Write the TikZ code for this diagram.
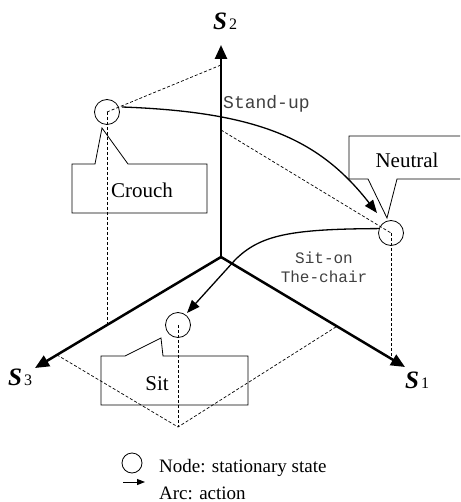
\documentclass[tikz,border=0pt]{standalone}
\usepackage{fontspec}
\setmainfont{Liberation Serif}
\setmonofont{Liberation Mono}
\usetikzlibrary{arrows.meta,calc}
\begin{document}
\begin{tikzpicture}[x=1pt,y=-1pt,
  axisline/.style={line width=2.5pt,-{Triangle[length=14pt,width=12pt]}},
  stnode/.style={circle,draw,line width=0.8pt,minimum size=25pt,inner sep=0pt},
  proj/.style={line width=0.7pt,dash pattern=on 3pt off 2pt},
  actarc/.style={line width=1.3pt,-{Triangle[length=13pt,width=10pt]}},
  callout/.style={line width=0.8pt},
  lbl/.style={font=\fontsize{21}{25}\selectfont,inner sep=0pt,anchor=base},
  act/.style={font=\ttfamily\fontsize{16}{20}\selectfont,text=black!75,inner sep=0pt},
  axlbl/.style={inner sep=0pt,anchor=base west},
  legtext/.style={font=\fontsize{19}{22}\selectfont,inner sep=0pt,anchor=base west},
]
\useasboundingbox (0,0) rectangle (460,502);

% axes
\coordinate (o) at (221,257);
\coordinate (s2tip) at (221,45);
\coordinate (s3tip) at (35,368);
\coordinate (s1tip) at (405,367);
\draw[axisline] (o) -- (s2tip);
\draw[axisline] (o) -- (s3tip);
\draw[axisline] (o) -- (s1tip);

\node[axlbl] (s2lbl) at (213,30) {{\fontsize{25}{25}\selectfont\bfseries\itshape S}\hspace{2pt}{\fontsize{16}{16}\selectfont 2}};
\node[axlbl] (s3lbl) at (8,385) {{\fontsize{25}{25}\selectfont\bfseries\itshape S}\hspace{2pt}{\fontsize{16}{16}\selectfont 3}};
\node[axlbl] (s1lbl) at (405,388) {{\fontsize{25}{25}\selectfont\bfseries\itshape S}\hspace{2pt}{\fontsize{16}{16}\selectfont 1}};

% states
\node[stnode] (crouch) at (107,112) {};
\node[stnode] (neutral) at (391,233) {};
\node[stnode] (sit) at (178,325) {};

% projection lines
\coordinate (p2a) at (221,65);
\coordinate (p2b) at (221,130);
\coordinate (c3) at ($(o)!0.613!(s3tip)$);
\coordinate (n1) at ($(o)!0.929!(s1tip)$);
\coordinate (sb) at (178,427);
\coordinate (b3) at ($(o)!0.882!(s3tip)$);
\coordinate (b1) at ($(o)!0.630!(s1tip)$);
\draw[proj] (crouch.center) -- (p2a);
\draw[proj] (p2b) -- (neutral.center);
\draw[proj] (crouch.center) -- (crouch.center |- c3);
\draw[proj] (neutral.center) -- (neutral.center |- n1);
\draw[proj] (sit.center) -- (sb);
\draw[proj] (b3) -- (sb) -- (b1);

% actions
\draw[actarc] ([shift={(15,-5)}]crouch.center) .. controls (260,112) and (320,140) .. ([shift={(-14,-20)}]neutral.center);
\draw[actarc] (neutral.160) .. controls (290,229) and (260,235) .. (235,260) -- ([shift={(9,-12)}]sit.center);
\node[act,font=\ttfamily\fontsize{18}{20}\selectfont,anchor=base west] (standup) at (223,109) {Stand-up};
\node[act,align=center,anchor=base] (siton) at (324,282) {Sit-on\\[-1pt]The-chair};

% callouts
\draw[callout] (72,164) -- (95,164) -- (102,128) -- (128,164) -- (207,164) -- (207,213) -- (72,213) -- cycle;
\node[lbl] (crouchlbl) at (142,198) {Crouch};
\draw[callout] (460,136) -- (349,136) -- (349,179) -- (368,179) -- (387,218) -- (397,179) -- (460,179);
\node[lbl] (neutrallbl) at (407,168) {Neutral};
\draw[callout] (101,356) -- (125,356) -- (161,338) -- (163,356) -- (248,356) -- (248,405) -- (101,405) -- cycle;
\node[lbl] (sitlbl) at (157,390) {Sit};

% legend
\node[stnode,minimum size=20pt] (legnode) at (132,463) {};
\node[legtext] (legnodetext) at (159,472) {Node: stationary state};
\coordinate (la) at (123,482);
\coordinate (lb) at (145,482);
\draw[line width=1pt,-{Triangle[length=8pt,width=6pt]}] (la) -- (lb);
\node[legtext] (legarctext) at (159,499) {Arc: action};
\end{tikzpicture}
\end{document}
